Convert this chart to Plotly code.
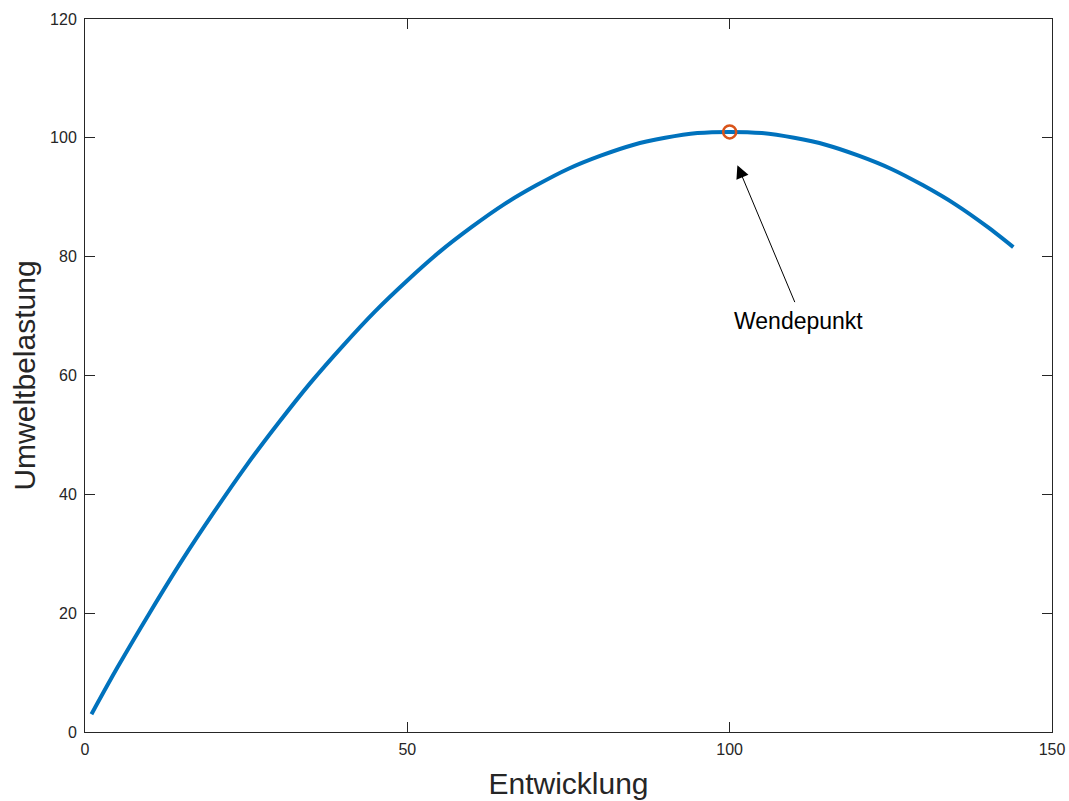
import plotly.graph_objects as go

# Development vs. environmental load (sampled curve values)
entwicklung = [1, 5, 10, 15, 20, 25, 30, 35, 40, 45, 50, 55, 60, 65, 70, 75,
               80, 85, 90, 95, 100, 105, 110, 115, 120, 125, 130, 135, 140, 144]
belastung = [3.0, 10.8, 20.0, 28.8, 37.0, 44.8, 52.0, 58.8, 65.0, 70.8, 76.0,
             80.8, 85.0, 88.8, 92.0, 94.8, 97.0, 98.8, 100.0, 100.8, 101.0,
             100.8, 100.0, 98.8, 97.0, 94.8, 92.0, 88.8, 85.0, 81.6]

# Turning point
wende_x = [100]
wende_y = [101]

x_ticks = [0, 50, 100, 150]
y_ticks = [0, 20, 40, 60, 80, 100, 120]

axis_color = "#262626"
font_family = "Liberation Sans, Arial, sans-serif"

fig = go.Figure()
fig.add_trace(go.Scatter(
    x=entwicklung, y=belastung, mode="lines",
    line=dict(color="#0072BD", width=4, shape="spline", smoothing=0.8),
    showlegend=False,
))
fig.add_trace(go.Scatter(
    x=wende_x, y=wende_y, mode="markers",
    marker=dict(symbol="circle-open", size=13, color="#D95319",
                line=dict(width=2.5, color="#D95319")),
    showlegend=False,
))

# Arrow pointing at the turning point
fig.add_annotation(
    x=101.2, y=95.4, ax=110.2, ay=72.1,
    xref="x", yref="y", axref="x", ayref="y",
    text="", showarrow=True, arrowhead=2, arrowsize=2.6, arrowwidth=1,
    arrowcolor="black",
)
fig.add_annotation(
    x=110.75, y=69.1, xref="x", yref="y", text="Wendepunkt",
    showarrow=False, font=dict(size=23, color="black", family=font_family),
)

axis_common = dict(
    showgrid=False, zeroline=False, showline=True, mirror="ticks",
    linecolor=axis_color, linewidth=1, ticks="inside", ticklen=10,
    tickcolor=axis_color, tickwidth=1, automargin=False,
    tickfont=dict(size=16, color=axis_color, family=font_family),
)

fig.update_xaxes(range=[0, 150], tickvals=x_ticks, ticklabelstandoff=3,
                 title=dict(text="Entwicklung", standoff=15,
                            font=dict(size=30, color=axis_color, family=font_family)),
                 **axis_common)
fig.update_yaxes(range=[0, 120], tickvals=y_ticks, ticklabelstandoff=4,
                 title=dict(text="Umweltbelastung", standoff=5,
                            font=dict(size=30, color=axis_color, family=font_family)),
                 **axis_common)

fig.update_layout(
    width=1069, height=801,
    margin=dict(l=85, r=17, t=19, b=69),
    plot_bgcolor="white", paper_bgcolor="white",
    font=dict(family=font_family),
)

fig.write_html("out.html")
